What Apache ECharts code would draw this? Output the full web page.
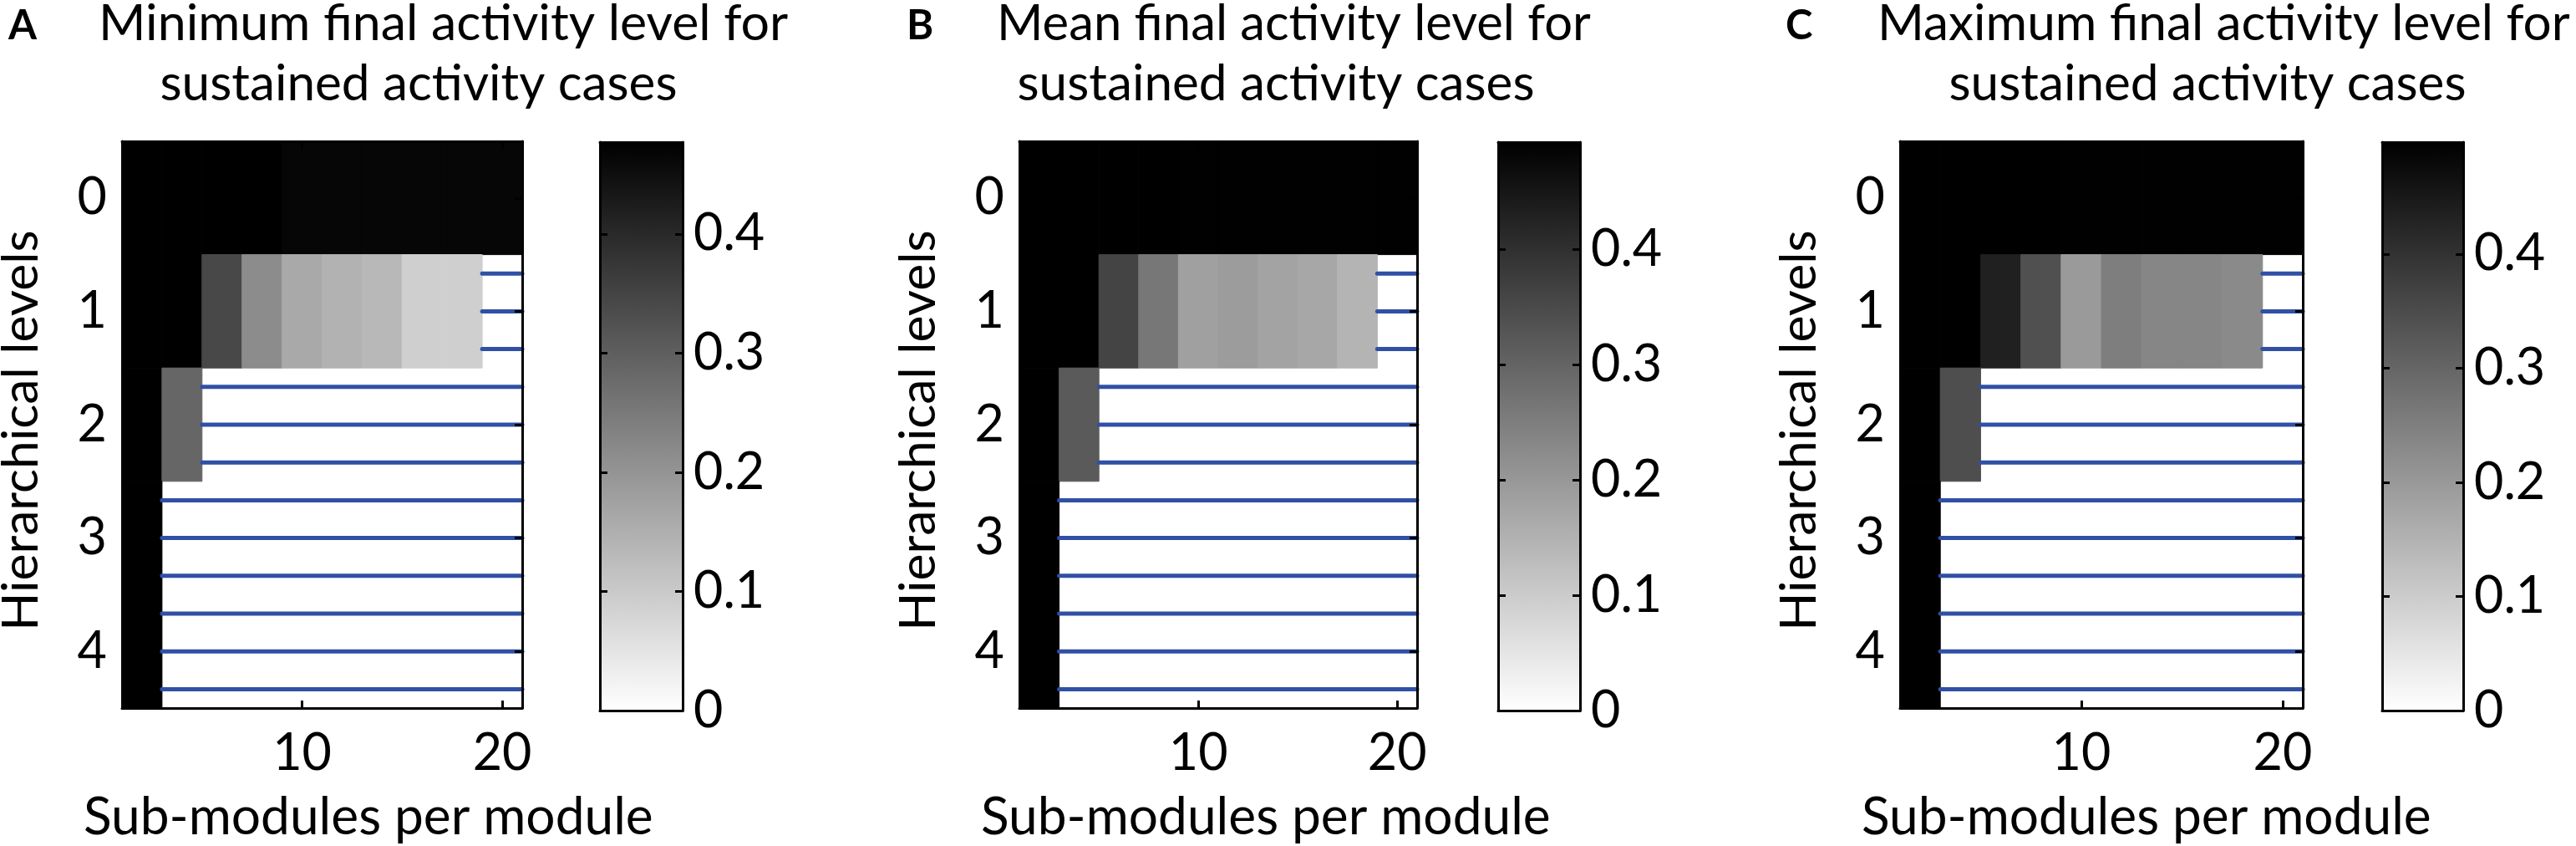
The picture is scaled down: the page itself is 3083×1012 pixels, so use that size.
<!DOCTYPE html>
<html>
<head>
<meta charset="utf-8">
<title>Final activity level for sustained activity cases</title>
<script src="https://cdn.jsdelivr.net/npm/echarts@6.0.0/dist/echarts.min.js"></script>
<style>
html, body { margin: 0; padding: 0; background: #fff; }
#chart { width: 3083px; height: 1012px; }
</style>
</head>
<body>
<div id="chart"></div>
<script>
// columns = sub-modules per module, rows = hierarchical levels
var subModules = [2, 4, 6, 8, 10, 12, 14, 16, 18, 20];
var levels = [0, 1, 2, 3, 4];
var xTickValues = [10, 20];
var levelTickValues = [0, 1, 2, 3, 4];
var colorbarTicks = [0, 0.1, 0.2, 0.3, 0.4];
// no sustained activity: three blue lines per level
var subRowOffsets = [-1 / 3, 0, 1 / 3];

// A - minimum (null = no sustained activity)
var minTop = 0.477;
var minLevel0 = [0.477, 0.477, 0.477, 0.477, 0.466, 0.466, 0.466, 0.466, 0.466, 0.466];
var minLevel1 = [0.477, 0.477, 0.342, 0.215, 0.161, 0.144, 0.133, 0.090, 0.090, null];
var minLevel2 = [0.477, 0.286, null, null, null, null, null, null, null, null];
var minLevel3 = [0.477, null, null, null, null, null, null, null, null, null];
var minLevel4 = [0.477, null, null, null, null, null, null, null, null, null];

// B - mean
var meanTop = 0.493;
var meanLevel0 = [0.493, 0.493, 0.493, 0.493, 0.492, 0.492, 0.492, 0.492, 0.492, 0.492];
var meanLevel1 = [0.493, 0.493, 0.362, 0.263, 0.184, 0.191, 0.178, 0.170, 0.145, null];
var meanLevel2 = [0.493, 0.319, null, null, null, null, null, null, null, null];
var meanLevel3 = [0.493, null, null, null, null, null, null, null, null, null];
var meanLevel4 = [0.493, null, null, null, null, null, null, null, null, null];

// C - maximum
var maxTop = 0.498;
var maxLevel0 = [0.498, 0.498, 0.498, 0.498, 0.497, 0.497, 0.497, 0.497, 0.497, 0.497];
var maxLevel1 = [0.498, 0.498, 0.435, 0.342, 0.197, 0.252, 0.236, 0.236, 0.229, null];
var maxLevel2 = [0.498, 0.346, null, null, null, null, null, null, null, null];
var maxLevel3 = [0.498, null, null, null, null, null, null, null, null, null];
var maxLevel4 = [0.498, null, null, null, null, null, null, null, null, null];

var titles = [
    ['Minimum final activity level for', 'sustained activity cases'],
    ['Mean final activity level for', 'sustained activity cases'],
    ['Maximum final activity level for', 'sustained activity cases']
];
var letters = ['A', 'B', 'C'];
var xName = 'Sub-modules per module';
var yName = 'Hierarchical levels';

var panels = [
    { rows: [minLevel0, minLevel1, minLevel2, minLevel3, minLevel4], top: minTop },
    { rows: [meanLevel0, meanLevel1, meanLevel2, meanLevel3, meanLevel4], top: meanTop },
    { rows: [maxLevel0, maxLevel1, maxLevel2, maxLevel3, maxLevel4], top: maxTop }
];

// page layout (pixels); w* are the text widths seen in the figure
var layout = [
    { heat: 146, heatW: 479, bar: 718, barW: 99, letter: 10, title: 118, wTitle: 826, title2: 501, xName: 100, yName: 27 },
    { heat: 1220, heatW: 476, bar: 1793, barW: 98, letter: 1085, title: 1193, wTitle: 711, title2: 1527, xName: 1174, yName: 1101 },
    { heat: 2274, heatW: 482, bar: 2851, barW: 97, letter: 2137, title: 2247, wTitle: 829, title2: 2642, xName: 2228, yName: 2155 }
];
var wTitle2 = 619, wXName = 682, wYName = 480;

var FONT = 'Lato, "Open Sans", sans-serif';
var colW = subModules[1] - subModules[0];
var xMin = subModules[0] - colW / 2;
var xMax = subModules[subModules.length - 1] + colW / 2;
var lineBlue = '#3050a5';

// pick a font size so the text spans the same width as in the figure
var measureCtx = document.createElement('canvas').getContext('2d');
function fitSize(text, width) {
    measureCtx.font = '100px ' + FONT;
    var w = measureCtx.measureText(text).width;
    return Math.max(56, Math.min(70, 100 * width / w));
}

function cellsOf(rows) {
    var out = [];
    rows.forEach(function (row, li) {
        row.forEach(function (v, ci) {
            if (v !== null) out.push([subModules[ci], levels[li], v]);
        });
    });
    return out;
}

function emptyLinesOf(rows) {
    var out = [];
    rows.forEach(function (row, li) {
        var j = row.indexOf(null);
        if (j < 0) return;
        var start = subModules[j] - colW / 2;
        subRowOffsets.forEach(function (o) {
            out.push([start, levels[li] + o]);
        });
    });
    return out;
}

function heatRenderer(vmax) {
    return function (params, api) {
        var x = api.value(0), y = api.value(1), v = api.value(2);
        var a = api.coord([x - colW / 2, y - 0.5]);
        var b = api.coord([x + colW / 2, y + 0.5]);
        var g = Math.round(255 * (1 - v / vmax));
        var c = 'rgb(' + g + ',' + g + ',' + g + ')';
        return {
            type: 'rect',
            shape: {
                x: Math.min(a[0], b[0]), y: Math.min(a[1], b[1]),
                width: Math.abs(b[0] - a[0]), height: Math.abs(b[1] - a[1])
            },
            style: { fill: c, stroke: c, lineWidth: 1 }
        };
    };
}

function lineRenderer(params, api) {
    var a = api.coord([api.value(0), api.value(1)]);
    var b = api.coord([xMax, api.value(1)]);
    return {
        type: 'line',
        shape: { x1: a[0], y1: a[1], x2: b[0], y2: b[1] },
        style: { stroke: lineBlue, lineWidth: 5, lineCap: 'round' }
    };
}

function barRenderer(params, api) {
    var a = api.coord([0, api.value(1)]);
    var b = api.coord([1, 0]);
    return {
        type: 'rect',
        shape: { x: a[0], y: a[1], width: b[0] - a[0], height: b[1] - a[1] },
        style: {
            fill: new echarts.graphic.LinearGradient(0, 0, 0, 1, [
                { offset: 0, color: '#000' },
                { offset: 1, color: '#fff' }
            ])
        }
    };
}

var axisLine = { show: true, onZero: false, lineStyle: { color: '#000', width: 3 } };
function ticks(values) {
    return { show: true, inside: true, length: 9, customValues: values, lineStyle: { color: '#000', width: 3 } };
}
function labels(values, margin) {
    return { show: true, margin: margin, customValues: values, fontFamily: FONT, fontSize: 61, color: '#000' };
}
var noLabel = { show: false };
var noTick = { show: false };
var noSplit = { show: false };

var grids = [], xAxes = [], yAxes = [], series = [], graphics = [];

panels.forEach(function (p, i) {
    var L = layout[i];
    grids.push({ left: L.heat, top: 169, width: L.heatW, height: 678, outerBoundsMode: 'none' });
    grids.push({ left: L.bar, top: 170, width: L.barW, height: 680, outerBoundsMode: 'none' });
    var hg = 2 * i, bg = 2 * i + 1;

    // heat map axes
    xAxes.push({ type: 'value', gridIndex: hg, position: 'bottom', min: xMin, max: xMax, z: 10,
        axisLine: axisLine, axisTick: ticks(xTickValues), axisLabel: labels(xTickValues, 24), splitLine: noSplit });
    xAxes.push({ type: 'value', gridIndex: hg, position: 'top', min: xMin, max: xMax, z: 10,
        axisLine: axisLine, axisTick: ticks(xTickValues), axisLabel: noLabel, splitLine: noSplit });
    yAxes.push({ type: 'value', gridIndex: hg, position: 'left', min: -0.5, max: 4.5, inverse: true, z: 10,
        axisLine: axisLine, axisTick: ticks(levelTickValues), axisLabel: labels(levelTickValues, 18), splitLine: noSplit });
    yAxes.push({ type: 'value', gridIndex: hg, position: 'right', min: -0.5, max: 4.5, inverse: true, z: 10,
        axisLine: axisLine, axisTick: ticks(levelTickValues), axisLabel: noLabel, splitLine: noSplit });

    // colour bar axes
    xAxes.push({ type: 'value', gridIndex: bg, position: 'bottom', min: 0, max: 1, z: 10,
        axisLine: axisLine, axisTick: noTick, axisLabel: noLabel, splitLine: noSplit });
    xAxes.push({ type: 'value', gridIndex: bg, position: 'top', min: 0, max: 1, z: 10,
        axisLine: axisLine, axisTick: noTick, axisLabel: noLabel, splitLine: noSplit });
    yAxes.push({ type: 'value', gridIndex: bg, position: 'left', min: 0, max: p.top, z: 10,
        axisLine: axisLine, axisTick: ticks(colorbarTicks), axisLabel: noLabel, splitLine: noSplit });
    yAxes.push({ type: 'value', gridIndex: bg, position: 'right', min: 0, max: p.top, z: 10,
        axisLine: axisLine, axisTick: ticks(colorbarTicks), axisLabel: labels(colorbarTicks, 13), splitLine: noSplit });

    series.push({ type: 'custom', xAxisIndex: 4 * i, yAxisIndex: 4 * i, renderItem: heatRenderer(p.top),
        encode: { x: 0, y: 1 }, data: cellsOf(p.rows), silent: true });
    series.push({ type: 'custom', xAxisIndex: 4 * i, yAxisIndex: 4 * i, renderItem: lineRenderer,
        encode: { x: 0, y: 1 }, data: emptyLinesOf(p.rows), silent: true, z: 3 });
    series.push({ type: 'custom', xAxisIndex: 4 * i + 2, yAxisIndex: 4 * i + 3, renderItem: barRenderer,
        encode: { x: 0, y: 1 }, data: [[0, p.top]], silent: true });

    var s1 = fitSize(titles[i][0], L.wTitle);
    var s2 = fitSize(titles[i][1], wTitle2);
    var sx = fitSize(xName, wXName);
    var sy = fitSize(yName, wYName);
    // vertical centre = baseline - 0.32 em
    graphics.push({ type: 'text', x: L.letter, y: 31, style: { text: letters[i], fill: '#000',
        font: 'bold 49px ' + FONT, align: 'left', verticalAlign: 'middle' } });
    graphics.push({ type: 'text', x: L.title, y: 48 - 0.32 * s1, style: { text: titles[i][0], fill: '#000',
        font: s1.toFixed(1) + 'px ' + FONT, align: 'left', verticalAlign: 'middle' } });
    graphics.push({ type: 'text', x: L.title2, y: 120 - 0.32 * s2, style: { text: titles[i][1], fill: '#000',
        font: s2.toFixed(1) + 'px ' + FONT, align: 'center', verticalAlign: 'middle' } });
    graphics.push({ type: 'text', x: L.xName, y: 998 - 0.32 * sx, style: { text: xName, fill: '#000',
        font: sx.toFixed(1) + 'px ' + FONT, align: 'left', verticalAlign: 'middle' } });
    graphics.push({ type: 'text', x: L.yName - 20 + 0.32 * sy + 0.36 * sy - 23, y: 515, rotation: Math.PI / 2,
        style: { text: yName, fill: '#000', font: sy.toFixed(1) + 'px ' + FONT, align: 'center', verticalAlign: 'middle' } });
});

var chart = echarts.init(document.getElementById('chart'));
chart.setOption({
    animation: false,
    backgroundColor: '#fff',
    grid: grids,
    xAxis: xAxes,
    yAxis: yAxes,
    series: series,
    graphic: graphics
});
</script>
</body>
</html>
